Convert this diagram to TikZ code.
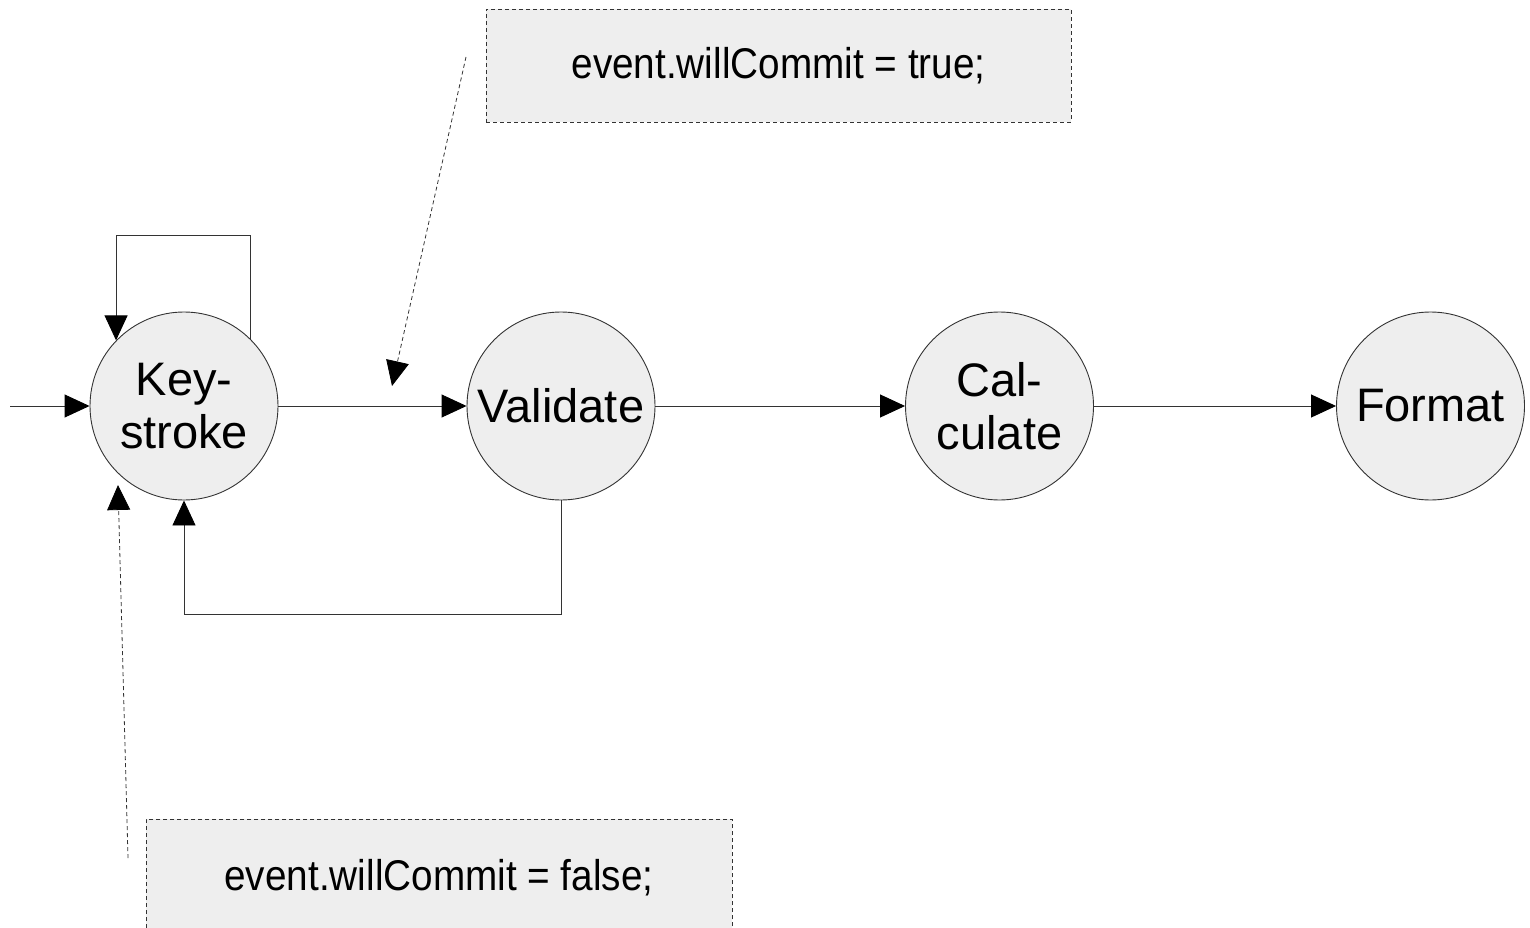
\documentclass[tikz,border=0pt]{standalone}
\usepackage{fontspec}
\setmainfont{Liberation Sans}
\usetikzlibrary{arrows.meta}
\definecolor{nodefill}{HTML}{EEEEEE}
\definecolor{linegray}{HTML}{333333}
\newcommand{\calloutfont}{\fontsize{43}{49}\selectfont}
\tikzset{
  state/.style={circle, draw=linegray, line width=0.9pt, fill=nodefill, minimum size=188pt, inner sep=0pt,
    align=center, font=\fontsize{47}{53}\selectfont},
  callout/.style={draw=linegray, line width=0.8pt, dash pattern=on 4pt off 3pt, fill=nodefill, inner sep=0pt,
    font=\calloutfont},
  arr/.style={draw=linegray, line width=0.9pt, -{Triangle[length=25pt,width=23pt,black]}},
  darr/.style={draw=linegray, line width=0.8pt, dash pattern=on 4pt off 3pt, -{Triangle[length=25pt,width=23pt,black]}}
}
\begin{document}
\begin{tikzpicture}[x=1pt,y=-1pt]
\useasboundingbox (0,0) rectangle (1530,928);
\node[state] (ks) at (184,406) {Key-\\stroke};
\node[state] (val) at (561,406) {Validate};
\node[state] (cal) at (999.5,406) {Cal-\\culate};
\node[state] (fmt) at (1430.5,406) {Format};
\node[callout, minimum width=585pt, minimum height=113pt] (cbTop) at (778.5,65.5) {\scalebox{0.9}[1]{event.willCommit = true;}};
\node[callout, minimum width=586pt, minimum height=130pt, anchor=north west] (cbBot) at (146,819) {};
\node[font=\calloutfont] (cbBotText) at (439,878) {\scalebox{0.9}[1]{event.willCommit = false;}};
\coordinate (in) at (10,406);
\draw[arr] (in) -- (ks.west);
\draw[arr] (ks) -- (val);
\draw[arr] (val) -- (cal);
\draw[arr] (cal) -- (fmt);
\draw[arr] (ks.45) -- ++(0,-104) -| (ks.136);
\draw[arr] (val.south) -- ++(0,114) -| (ks.south);
\coordinate (t1s) at (466,57);
\coordinate (t1e) at (392,386);
\draw[darr] (t1s) -- (t1e);
\coordinate (t2s) at (128,858);
\coordinate (t2e) at (118,485);
\draw[darr] (t2s) -- (t2e);
\end{tikzpicture}
\end{document}
